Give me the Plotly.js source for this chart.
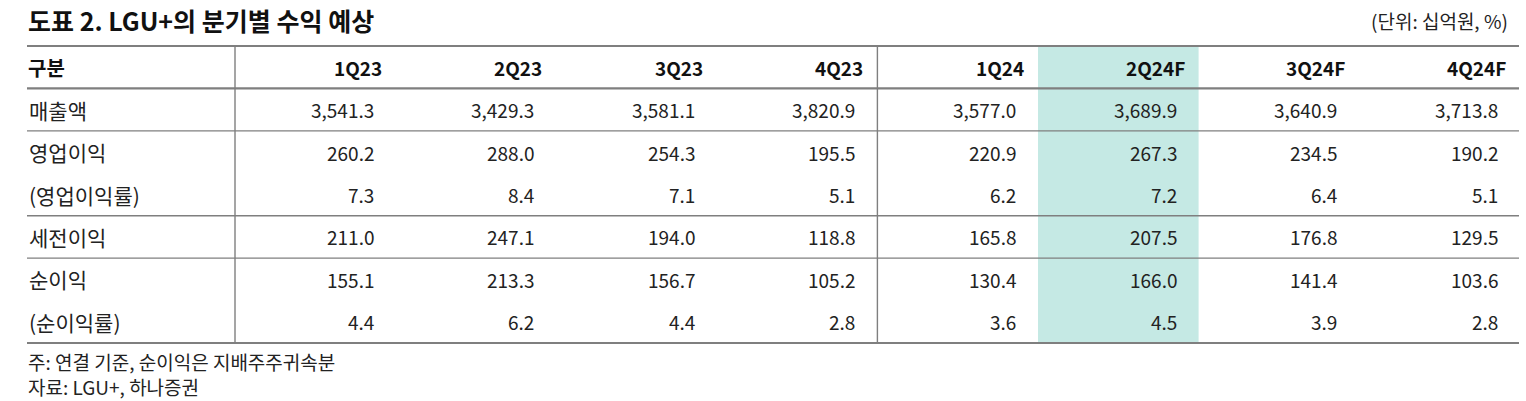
<!DOCTYPE html>
<html>
<head>
<meta charset="utf-8">
<script src="https://cdn.plot.ly/plotly-3.0.1.min.js"></script>
<style>
html,body{margin:0;padding:0;background:#fff;}
#chart{width:1526px;height:401px;}
</style>
</head>
<body>
<div id="chart"></div>
<script>
// ---- data ----
const quarters = ['1Q23','2Q23','3Q23','4Q23','1Q24','2Q24F','3Q24F','4Q24F'];
const rowLabels = ['매출액','영업이익','(영업이익률)','세전이익','순이익','(순이익률)'];
const revenue   = [3541.3, 3429.3, 3581.1, 3820.9, 3577.0, 3689.9, 3640.9, 3713.8];
const opProfit  = [260.2, 288.0, 254.3, 195.5, 220.9, 267.3, 234.5, 190.2];
const opMargin  = [7.3, 8.4, 7.1, 5.1, 6.2, 7.2, 6.4, 5.1];
const pretax    = [211.0, 247.1, 194.0, 118.8, 165.8, 207.5, 176.8, 129.5];
const netIncome = [155.1, 213.3, 156.7, 105.2, 130.4, 166.0, 141.4, 103.6];
const netMargin = [4.4, 6.2, 4.4, 2.8, 3.6, 4.5, 3.9, 2.8];
const highlightQuarter = '2Q24F';
const headerLabel = '구분';
const titleText = '도표 2. LGU+의 분기별 수익 예상';
const unitText = '(단위: 십억원, %)';
const notes = ['주: 연결 기준, 순이익은 지배주주귀속분', '자료: LGU+, 하나증권'];

// ---- layout geometry (pixels) ----
const W = 1526, H = 401;
const colX0 = 235, colW = 160.6;     // first data column left edge, column width
const rowY0 = 46, rowH = 42.43;      // table top, row height
const xmin = -colX0 / colW, xmax = (W - colX0) / colW;
const ymin = -rowY0 / rowH, ymax = (H - rowY0) / rowH;
const px2x = p => (p - colX0) / colW;

const rows = [revenue, opProfit, opMargin, pretax, netIncome, netMargin];
const fmt = v => v.toLocaleString('en-US', {minimumFractionDigits: 1, maximumFractionDigits: 1});

const FONT = '"Noto Sans CJK KR", "Noto Sans", sans-serif';
const annotations = [];
const base = {showarrow: false, borderpad: 0, borderwidth: 0, xref: 'x', yref: 'y', yanchor: 'middle'};

// header row
annotations.push(Object.assign({}, base, {
  x: px2x(28), y: 0.5, xanchor: 'left', text: '<b>' + headerLabel + '</b>',
  font: {family: FONT, size: 20, color: '#111'}
}));
quarters.forEach((q, k) => {
  annotations.push(Object.assign({}, base, {
    x: k + 1 - 14 / colW, y: 0.5, xanchor: 'right', text: '<b>' + q + '</b>',
    font: {family: FONT, size: 19, color: '#111'}
  }));
});
// body rows
rows.forEach((vals, r) => {
  annotations.push(Object.assign({}, base, {
    x: px2x(29), y: r + 1.5, xanchor: 'left', text: rowLabels[r],
    font: {family: FONT, size: 21, color: '#222'}
  }));
  vals.forEach((v, k) => {
    annotations.push(Object.assign({}, base, {
      x: k + 1 - 22 / colW, y: r + 1.5, xanchor: 'right', text: fmt(v),
      font: {family: FONT, size: 19, color: '#222'}
    }));
  });
});
// title, unit, notes
annotations.push({showarrow: false, xref: 'paper', yref: 'paper', x: 27 / W, y: 1 - 20 / H,
  xanchor: 'left', yanchor: 'middle', borderpad: 0, text: '<b>' + titleText + '</b>',
  font: {family: FONT, size: 25, color: '#111'}});
annotations.push({showarrow: false, xref: 'paper', yref: 'paper', x: 1509 / W, y: 1 - 20 / H,
  xanchor: 'right', yanchor: 'middle', borderpad: 0, text: unitText,
  font: {family: FONT, size: 19, color: '#222'}});
notes.forEach((n, i) => {
  annotations.push({showarrow: false, xref: 'paper', yref: 'paper', x: 27 / W, y: 1 - (361 + i * 25) / H,
    xanchor: 'left', yanchor: 'middle', borderpad: 0, text: n,
    font: {family: FONT, size: 19, color: '#222'}});
});

// shapes
const nRows = rows.length + 1;
const lineX0 = px2x(27), lineX1 = px2x(1519);
const grey = '#7f7f7f';
const shapes = [];
const hk = quarters.indexOf(highlightQuarter);
shapes.push({type: 'rect', xref: 'x', yref: 'y', x0: hk, x1: hk + 1, y0: 0, y1: nRows,
  fillcolor: '#c5e9e4', line: {width: 0}, layer: 'below'});
const hline = (y, w) => shapes.push({type: 'line', xref: 'x', yref: 'y', x0: lineX0, x1: lineX1, y0: y, y1: y,
  line: {color: grey, width: w}});
hline(0, 2.2); hline(1, 2.2); hline(2, 1.4); hline(4, 1.4); hline(5, 1.4); hline(nRows, 2.2);
[0, 4].forEach(k => shapes.push({type: 'line', xref: 'x', yref: 'y', x0: k, x1: k, y0: 0, y1: nRows,
  line: {color: grey, width: 1.4}}));

const layout = {
  width: W, height: H,
  margin: {l: 0, r: 0, t: 0, b: 0},
  paper_bgcolor: '#fff', plot_bgcolor: '#fff',
  showlegend: false,
  xaxis: {range: [xmin, xmax], visible: false, fixedrange: true},
  yaxis: {range: [ymax, ymin], visible: false, fixedrange: true},
  annotations: annotations,
  shapes: shapes
};
Plotly.newPlot('chart', [{type: 'scatter', x: [], y: [], mode: 'markers', hoverinfo: 'skip'}], layout,
  {displayModeBar: false, staticPlot: true});
</script>
</body>
</html>
